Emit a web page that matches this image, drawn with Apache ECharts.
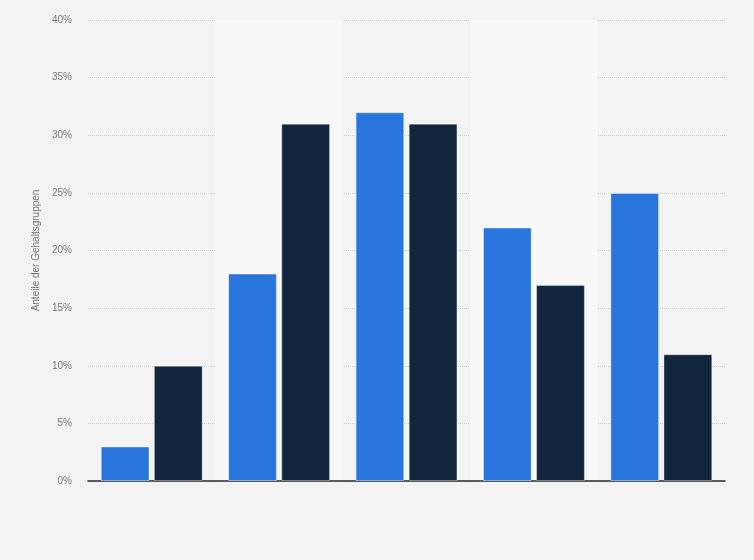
<!DOCTYPE html>
<html>
<head>
<meta charset="utf-8">
<script src="https://cdn.jsdelivr.net/npm/echarts@6/dist/echarts.min.js"></script>
<style>
html,body{margin:0;padding:0;background:#f3f3f3;}
#c{width:754px;height:560px;}
</style>
</head>
<body>
<div id="c"></div>
<script>
var categories = ['Gruppe 1', 'Gruppe 2', 'Gruppe 3', 'Gruppe 4', 'Gruppe 5'];
var seriesA = [3, 18, 32, 22, 25];
var seriesB = [10, 31, 31, 17, 11];
var yTicks = [0, 5, 10, 15, 20, 25, 30, 35, 40];
var yName = 'Anteile der Gehaltsgruppen';

var chart = echarts.init(document.getElementById('c'), null, {renderer: 'canvas'});
chart.setOption({
  backgroundColor: '#f3f3f3',
  animation: false,
  grid: {left: 88, right: 29, top: 20, bottom: 79, containLabel: false},
  xAxis: {
    type: 'category',
    data: categories,
    axisLine: {show: true, lineStyle: {color: '#2b2b2b', width: 1.5}},
    axisTick: {show: false},
    axisLabel: {show: false},
    splitArea: {show: true, areaStyle: {color: ['rgba(0,0,0,0)', '#f8f8f8']}}
  },
  yAxis: {
    type: 'value',
    min: yTicks[0],
    max: yTicks[yTicks.length - 1],
    interval: 5,
    name: yName,
    nameLocation: 'middle',
    nameGap: 44,
    nameTextStyle: {color: '#737373', fontSize: 10, fontFamily: 'Liberation Sans, Arial, sans-serif'},
    axisLine: {show: false},
    axisTick: {show: false},
    axisLabel: {
      color: '#777777', fontSize: 10, margin: 16,
      fontFamily: 'Liberation Sans, Arial, sans-serif',
      formatter: function (v) { return v + '%'; }
    },
    splitLine: {show: true, lineStyle: {color: '#d3d3d3', type: [1, 1], width: 1}}
  },
  series: [
    {
      name: 'A', type: 'bar', data: seriesA,
      barGap: '9%', barCategoryGap: '20%',
      itemStyle: {color: '#2876dd', borderColor: 'rgba(255,255,255,0.45)', borderWidth: 1}
    },
    {
      name: 'B', type: 'bar', data: seriesB,
      itemStyle: {color: '#11263c', borderColor: 'rgba(255,255,255,0.35)', borderWidth: 1}
    }
  ]
});
</script>
</body>
</html>
